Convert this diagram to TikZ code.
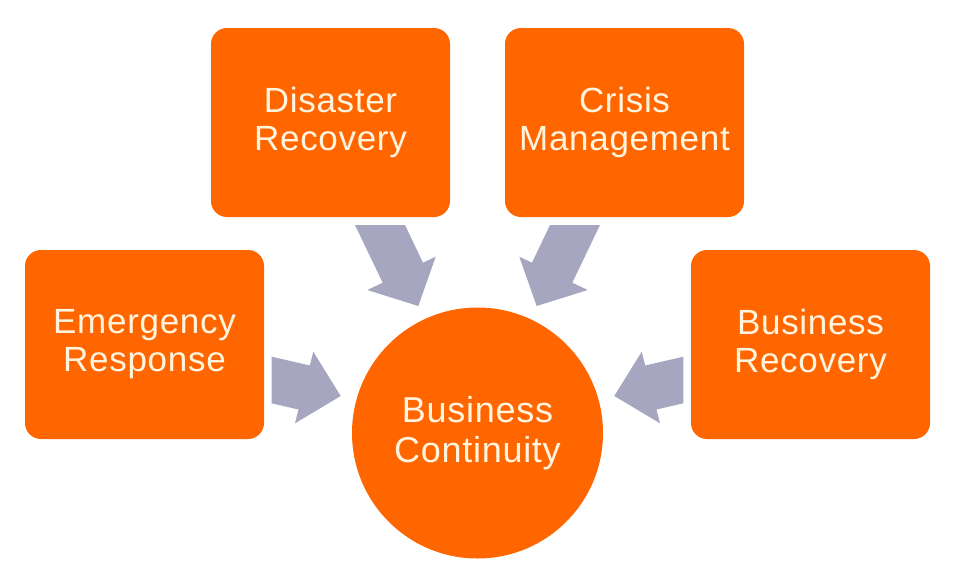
\documentclass[tikz,border=0pt]{standalone}
\usepackage{fontspec}
\setmainfont{Liberation Sans}[LetterSpace=2]
\definecolor{boxorange}{RGB}{255,102,0}
\definecolor{boxtext}{RGB}{255,244,222}
\definecolor{arrowgray}{RGB}{166,166,192}
\begin{document}
\begin{tikzpicture}[x=1pt,y=-1pt,
  card/.style={rectangle, rounded corners=16pt, fill=boxorange, text=boxtext,
    minimum width=239pt, minimum height=189pt, inner sep=0pt, align=center,
    font=\fontsize{35}{38}\selectfont},
  hub/.style={circle, fill=boxorange, text=boxtext, minimum size=251pt,
    inner sep=0pt, align=center, font=\fontsize{36}{40}\selectfont},
  blockarrow/.style={fill=arrowgray}]
\useasboundingbox (0,0) rectangle (970,584);
\fill[white] (0,0) rectangle (970,584);

\node[card] (dr) at (330.5,122.5) {Disaster\\Recovery};
\node[card] (cm) at (624.5,122.5) {Crisis\\Management};
\node[card] (er) at (144.5,344.5) {Emergency\\Response};
\node[card] (br) at (810.5,344.5) {Business\\Recovery};
\node[hub] (bc) at (477.5,433) {Business\\Continuity};

% Disaster Recovery -> Business Continuity
\fill[blockarrow] (355,225) -- (405,225) -- (423,262.7) -- (435.7,256.7)
  -- (418.3,306) -- (367.3,290) -- (382.7,282.7) -- cycle;
% Crisis Management -> Business Continuity
\fill[blockarrow] (600,225) -- (550,225) -- (532,262.7) -- (519.3,256.7)
  -- (536.7,306) -- (587.7,290) -- (572.3,282.7) -- cycle;
% Emergency Response -> Business Continuity
\fill[blockarrow] (271.7,356.7) -- (309.8,365.5) -- (313.3,351.7) -- (340.7,396)
  -- (295,423.3) -- (298.5,409.5) -- (271.7,403.3) -- cycle;
% Business Recovery -> Business Continuity
\fill[blockarrow] (683.3,356.7) -- (645.2,365.5) -- (641.7,351.7) -- (614.3,396)
  -- (660,423.3) -- (656.5,409.5) -- (683.3,403.3) -- cycle;
\end{tikzpicture}
\end{document}
